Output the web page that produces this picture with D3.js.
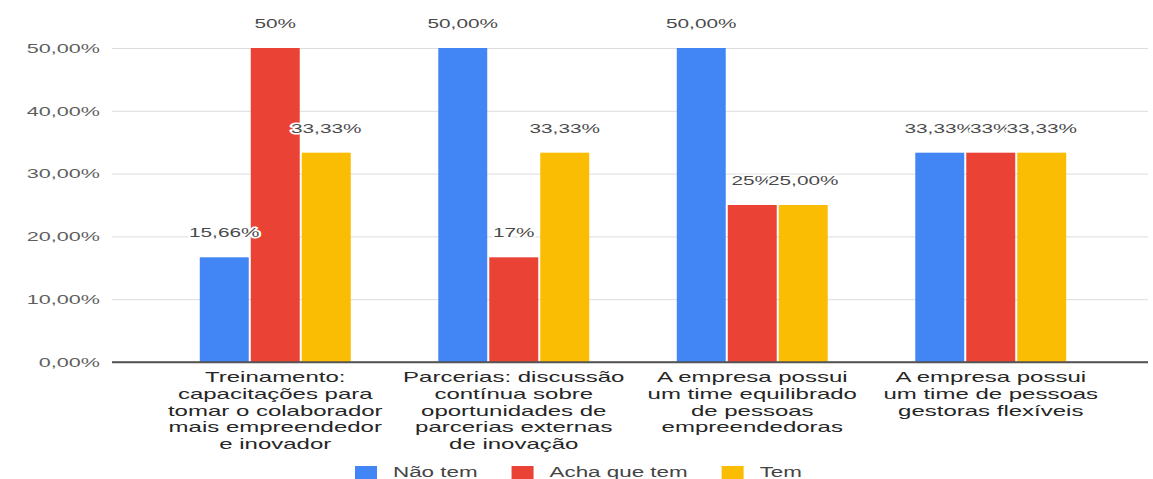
<!DOCTYPE html>
<html><head><meta charset="utf-8">
<script src="https://cdn.jsdelivr.net/npm/d3@7"></script>
<style>
html,body{margin:0;padding:0;background:#fff;}
svg{display:block;font-family:"Liberation Sans",Arial,sans-serif;}
</style></head>
<body><svg id="c" width="1153" height="479"></svg>
<script>
const categories = [
  ["Treinamento:", "capacitações para", "tomar o colaborador", "mais empreendedor", "e inovador"],
  ["Parcerias: discussão", "contínua sobre", "oportunidades de", "parcerias externas", "de inovação"],
  ["A empresa possui", "um time equilibrado", "de pessoas", "empreendedoras"],
  ["A empresa possui", "um time de pessoas", "gestoras flexíveis"]
];
const seriesNames = ["Não tem", "Acha que tem", "Tem"];
const naoTem = [16.67, 50, 50, 33.33];
const achaQueTem = [50, 16.67, 25, 33.33];
const tem = [33.33, 33.33, 25, 33.33];
const naoTemLabels = ["15,66%", "50,00%", "50,00%", "33,33%"];
const achaQueTemLabels = ["50%", "17%", "25%", "33%"];
const temLabels = ["33,33%", "33,33%", "25,00%", "33,33%"];
const yTicks = [0, 10, 20, 30, 40, 50];
const yTickLabels = ["0,00%", "10,00%", "20,00%", "30,00%", "40,00%", "50,00%"];
const colors = ["#4285F4", "#EA4335", "#FBBC04"];

const SX = 1.6; // horizontal text stretch of the reference
const svg = d3.select("#c");
const gridLeft = 112, gridRight = 1148;
const y = d3.scaleLinear().domain([0, 50]).range([362, 48]);
const x0 = d3.scaleBand().domain(d3.range(categories.length)).range([156, 1110]).paddingInner(0.35).paddingOuter(0.175);
const x1 = d3.scaleBand().domain(d3.range(seriesNames.length)).range([0, x0.bandwidth()]).padding(0.04);

const values = [naoTem, achaQueTem, tem];
const labels = [naoTemLabels, achaQueTemLabels, temLabels];

// y axis with gridlines
const yAxis = svg.append("g").attr("transform", `translate(${gridLeft},0)`)
  .call(d3.axisLeft(y).tickValues(yTicks).tickSize(-(gridRight - gridLeft)).tickFormat((d, i) => yTickLabels[i]));
yAxis.select(".domain").remove();
yAxis.selectAll(".tick line").attr("stroke", (d) => d === 0 ? "#555" : "#dcdcdc").attr("stroke-width", (d) => d === 0 ? 1.3 : 1);
yAxis.selectAll(".tick text").attr("x", -12 / SX).attr("transform", `scale(${SX},1)`)
  .attr("fill", "#5f5f5f").style("font-size", "13.5px").attr("font-family", "Liberation Sans, Arial, sans-serif");

// bars
const groups = svg.append("g").selectAll("g").data(categories).join("g")
  .attr("transform", (d, i) => `translate(${x0(i)},0)`);
groups.selectAll("rect").data((d, i) => values.map((v, s) => ({s, v: v[i]}))).join("rect")
  .attr("x", d => x1(d.s)).attr("width", x1.bandwidth())
  .attr("y", d => y(d.v)).attr("height", d => y(0) - y(d.v))
  .attr("fill", d => colors[d.s]);

// baseline on top
svg.append("line").attr("x1", gridLeft).attr("x2", gridRight).attr("y1", y(0)).attr("y2", y(0)).attr("stroke", "#555").attr("stroke-width", 1.3);

// data labels (drawn in series order so later ones overlap earlier)
const lab = svg.append("g");
for (let i = 0; i < categories.length; i++) {
  for (let s = 0; s < seriesNames.length; s++) {
    const cx = x0(i) + x1(s) + x1.bandwidth() / 2;
    const cy = y(values[s][i]) - 20;
    lab.append("text").attr("transform", `translate(${cx},${cy}) scale(${SX},1)`)
      .attr("text-anchor", "middle").style("font-size", "13px")
      .attr("fill", "#4a4a4a").attr("stroke", "#fff").attr("stroke-width", 3)
      .attr("paint-order", "stroke").attr("stroke-linejoin", "round")
      .text(labels[s][i]);
  }
}

// x axis labels
const xAxis = svg.append("g").attr("transform", `translate(0,${y(0)})`)
  .call(d3.axisBottom(x0).tickSize(0).tickFormat(""));
xAxis.select(".domain").remove();
xAxis.selectAll(".tick").each(function(d) {
  const t = d3.select(this).append("text").attr("transform", `translate(0,20) scale(${SX},1)`)
    .attr("text-anchor", "middle").attr("fill", "#262626").style("font-size", "15px")
    .attr("font-family", "Liberation Sans, Arial, sans-serif");
  categories[d].forEach((line, k) => {
    t.append("tspan").attr("x", 0).attr("y", k * 16.8).text(line);
  });
});

// legend
const leg = svg.append("g");
let lx = 355;
seriesNames.forEach((name, s) => {
  leg.append("rect").attr("x", lx).attr("y", 466).attr("width", 22).attr("height", 13).attr("fill", colors[s]);
  const tx = lx + 38;
  const t = leg.append("text").attr("transform", `translate(${tx},477) scale(${SX},1)`)
    .style("font-size", "14px").attr("fill", "#444").text(name);
  const w = t.node().getComputedTextLength() * SX;
  lx = tx + w + 34;
});
</script></body></html>
